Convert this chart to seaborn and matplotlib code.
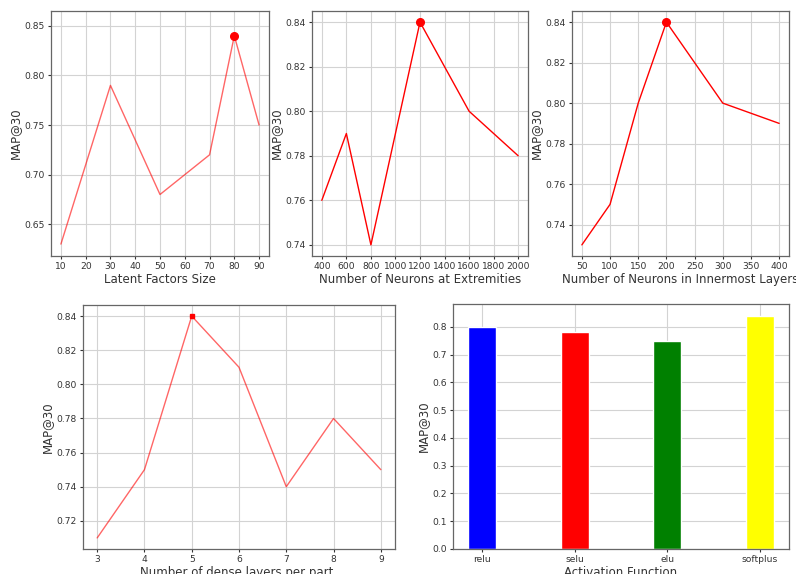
import matplotlib
matplotlib.use("Agg")
from matplotlib import pyplot as plt
import seaborn as sns
import pandas as pd

# Latent factors
latent_x = [10, 30, 50, 70, 80, 90]
latent_y = [0.63, 0.79, 0.68, 0.72, 0.84, 0.75]
# Neurons at extremities
extr_x = [400, 600, 800, 1200, 1600, 2000]
extr_y = [0.76, 0.79, 0.74, 0.84, 0.80, 0.78]
# Neurons in innermost layers
inner_x = [50, 100, 150, 200, 300, 400]
inner_y = [0.73, 0.75, 0.80, 0.84, 0.80, 0.79]
# Dense layers per part
dense_x = [3, 4, 5, 6, 7, 8, 9]
dense_y = [0.71, 0.75, 0.84, 0.81, 0.74, 0.78, 0.75]
# Activation functions
activ = ["relu", "selu", "elu", "softplus"]
activ_y = [0.80, 0.78, 0.75, 0.84]
activ_colors = ["blue", "red", "green", "yellow"]

sns.set_style("white")
plt.rcParams["font.family"] = ["DejaVu Sans"]
plt.rcParams["axes.edgecolor"] = "#666666"
plt.rcParams["xtick.color"] = "#333333"
plt.rcParams["ytick.color"] = "#333333"

fig = plt.figure(figsize=(7.96, 5.74), dpi=100)
W, H = 796.0, 574.0


def box(l, t, r, b):
    return [l / W, 1 - b / H, (r - l) / W, (b - t) / H]


def style(ax, xlabel):
    ax.grid(True, color="#d3d3d3", linewidth=0.8)
    ax.set_axisbelow(True)
    ax.tick_params(axis="both", labelsize=6.6, length=2.5, pad=2, left=True, bottom=True)
    ax.set_xlabel(xlabel, fontsize=8.5, color="#333333", labelpad=1)
    ax.set_ylabel("MAP@30", fontsize=8.5, color="#333333", labelpad=1.5)
    for s in ax.spines.values():
        s.set_linewidth(0.9)


def line_panel(ax, xs, ys, xlabel, alpha, msize, marker):
    df = pd.DataFrame({"x": xs, "y": ys})
    sns.lineplot(data=df, x="x", y="y", ax=ax, color="red", alpha=alpha, linewidth=1.0)
    i = ys.index(max(ys))
    ax.plot(xs[i], ys[i], marker=marker, color="red", markersize=msize, linestyle="none")
    style(ax, xlabel)


ax1 = fig.add_axes(box(51, 11, 269, 256))
line_panel(ax1, latent_x, latent_y, "Latent Factors Size", 0.6, 5.5, "o")
ax1.set_xticks(range(10, 100, 10))
ax1.set_yticks([0.65, 0.70, 0.75, 0.80, 0.85])
ax1.set_ylim(0.618, 0.865)

ax2 = fig.add_axes(box(312, 11, 528, 256))
line_panel(ax2, extr_x, extr_y, "Number of Neurons at Extremities", 1.0, 5.5, "o")
ax2.set_xticks(range(400, 2200, 200))
ax2.set_yticks([0.74, 0.76, 0.78, 0.80, 0.82, 0.84])

ax3 = fig.add_axes(box(572, 11, 789, 256))
line_panel(ax3, inner_x, inner_y, "Number of Neurons in Innermost Layers", 1.0, 5.5, "o")
ax3.set_xticks(range(50, 450, 50))
ax3.set_yticks([0.74, 0.76, 0.78, 0.80, 0.82, 0.84])

ax4 = fig.add_axes(box(83, 305, 395, 549))
line_panel(ax4, dense_x, dense_y, "Number of dense layers per part.", 0.6, 2.5, "s")
ax4.set_xticks(dense_x)
ax4.set_yticks([0.72, 0.74, 0.76, 0.78, 0.80, 0.82, 0.84])

ax5 = fig.add_axes(box(453, 304, 789, 549))
bdf = pd.DataFrame({"act": activ, "val": activ_y})
sns.barplot(data=bdf, x="act", y="val", hue="act", palette=activ_colors,
            width=0.3, saturation=1, legend=False, ax=ax5)
ax5.set_xlim(-0.315, 3.315)
ax5.set_ylim(0, 0.882)
ax5.set_yticks([0.0, 0.1, 0.2, 0.3, 0.4, 0.5, 0.6, 0.7, 0.8])
style(ax5, "Activation Function")

fig.savefig("out.png", dpi=100)
